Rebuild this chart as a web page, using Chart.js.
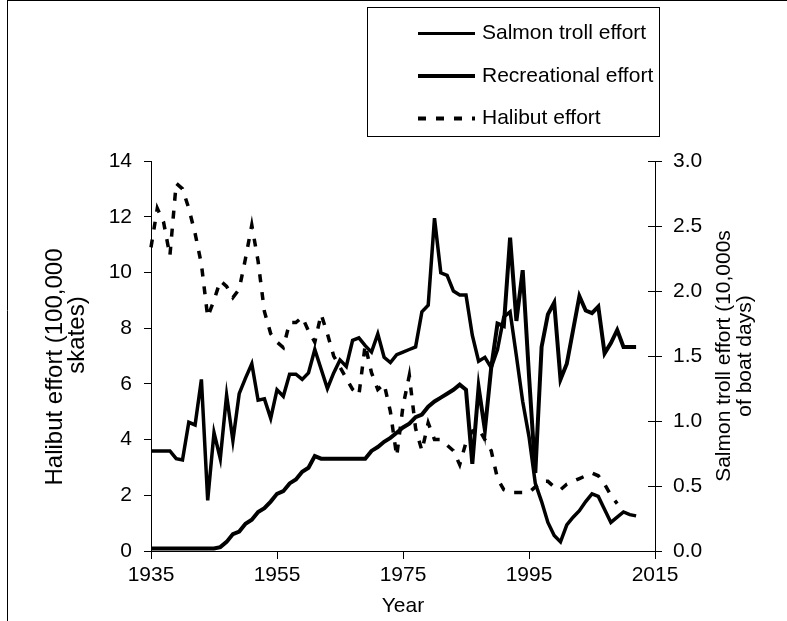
<!DOCTYPE html>
<html>
<head>
<meta charset="utf-8">
<title>Halibut, salmon troll and recreational effort</title>
<script src="https://cdn.jsdelivr.net/npm/chart.js@4.4.0/dist/chart.umd.min.js"></script>
<style>
  html, body { margin: 0; padding: 0; background: #fff; }
</style>
</head>
<body>
<canvas id="chart" width="787" height="621"></canvas>
<script>
// one value per year, right axis (10,000s of boat days)
var years = [1935, 1936, 1937, 1938, 1939, 1940, 1941, 1942, 1943, 1944,
    1945, 1946, 1947, 1948, 1949, 1950, 1951, 1952, 1953, 1954,
    1955, 1956, 1957, 1958, 1959, 1960, 1961, 1962, 1963, 1964,
    1965, 1966, 1967, 1968, 1969, 1970, 1971, 1972, 1973, 1974,
    1975, 1976, 1977, 1978, 1979, 1980, 1981, 1982, 1983, 1984,
    1985, 1986, 1987, 1988, 1989, 1990, 1991, 1992, 1993, 1994,
    1995, 1996, 1997, 1998, 1999, 2000, 2001, 2002, 2003, 2004,
    2005, 2006, 2007, 2008, 2009, 2010, 2011, 2012];

var salmonTroll = [0.77, 0.77, 0.77, 0.77, 0.71, 0.70, 0.99, 0.97, 1.32, 0.39,
    0.91, 0.71, 1.20, 0.85, 1.21, 1.33, 1.44, 1.16, 1.17, 1.02,
    1.24, 1.19, 1.36, 1.36, 1.32, 1.37, 1.55, 1.40, 1.25, 1.37,
    1.47, 1.42, 1.62, 1.64, 1.58, 1.53, 1.67, 1.49, 1.45, 1.51,
    1.53, 1.55, 1.57, 1.84, 1.89, 2.56, 2.14, 2.12, 2.00, 1.97,
    1.97, 1.66, 1.46, 1.49, 1.41, 1.55, 1.80, 1.84, 1.50, 1.15,
    0.88, 0.52, 0.38, 0.22, 0.12, 0.07, 0.20, 0.26, 0.31, 0.38,
    0.44, 0.42, 0.32, 0.22, 0.26, 0.30, 0.28, 0.27];

var recreational = [0.02, 0.02, 0.02, 0.02, 0.02, 0.02, 0.02, 0.02, 0.02, 0.02,
    0.02, 0.03, 0.07, 0.13, 0.15, 0.21, 0.24, 0.30, 0.33, 0.38,
    0.44, 0.46, 0.52, 0.55, 0.61, 0.64, 0.73, 0.71, 0.71, 0.71,
    0.71, 0.71, 0.71, 0.71, 0.71, 0.77, 0.80, 0.84, 0.87, 0.91,
    0.95, 0.98, 1.03, 1.05, 1.11, 1.15, 1.18, 1.21, 1.24, 1.28,
    1.24, 0.67, 1.26, 0.93, 1.41, 1.75, 1.73, 2.41, 1.77, 2.16,
    1.35, 0.60, 1.57, 1.82, 1.91, 1.32, 1.44, 1.70, 1.96, 1.85,
    1.83, 1.88, 1.52, 1.60, 1.70, 1.57, 1.57, 1.57];

// left axis (100,000 skates)
var halibutYears = [1935, 1936, 1937, 1938, 1939, 1940, 1941, 1942, 1943, 1944,
    1945, 1946, 1947, 1948, 1949, 1950, 1951, 1952, 1953, 1954,
    1955, 1956, 1957, 1958, 1959, 1960, 1961, 1962, 1963, 1964,
    1965, 1966, 1967, 1968, 1969, 1970, 1971, 1972, 1973, 1974,
    1975, 1976, 1977, 1978, 1979, 1980, 1981, 1982, 1983, 1984,
    1985, 1986, 1987, 1988, 1989, 1990, 1991, 1992, 1993, 1994,
    1995, 1996, 1997, 1998, 1999, 2000, 2001, 2002, 2003, 2004,
    2005, 2006, 2007, 2008, 2009];

var halibut = [10.9, 12.3, 11.8, 10.6, 13.2, 13.0, 12.3, 11.4, 10.3, 8.4,
    9.0, 9.7, 9.5, 9.1, 9.4, 10.5, 11.7, 10.4, 8.6, 7.8,
    7.5, 7.3, 8.2, 8.2, 8.4, 7.9, 7.5, 8.5, 7.8, 7.0,
    6.6, 6.2, 5.8, 5.6, 7.4, 6.4, 5.8, 6.0, 5.0, 3.4,
    5.2, 6.3, 4.4, 3.6, 4.6, 4.0, 4.0, 3.8, 3.6, 3.1,
    3.9, 4.3, 4.4, 4.0, 3.6, 2.6, 2.2, 2.1, 2.1, 2.1,
    2.1, 2.3, 2.5, 2.5, 2.3, 2.2, 2.4, 2.5, 2.6, 2.7,
    2.8, 2.7, 2.4, 2.0, 1.7];

var leftTitle = ['Halibut effort (100,000', 'skates)'];
var rightTitle = ['Salmon troll effort (10,000s', 'of boat days)'];

var FONT = '"Liberation Sans", Arial, sans-serif';

function toPoints(xs, ys) {
    var points = [];
    for (var i = 0; i < xs.length; i++) {
        points.push({x: xs[i], y: ys[i]});
    }
    return points;
}

function createDataset(label, points, axis, width, dash) {
    return {
        label: label,
        data: points,
        yAxisID: axis,
        borderColor: '#000',
        backgroundColor: '#000',
        borderWidth: width,
        borderDash: dash,
        borderCapStyle: 'butt',
        borderJoinStyle: 'miter',
        pointRadius: 0,
        fill: false,
        tension: 0,
        clip: false
    };
}

function drawRotated(ctx, text, x, y) {
    ctx.save();
    ctx.translate(x, y);
    ctx.rotate(-Math.PI / 2);
    ctx.textAlign = 'center';
    ctx.textBaseline = 'middle';
    ctx.fillText(text, 0, 0);
    ctx.restore();
}

// frame, legend box, y axis titles, inner half of the right axis ticks
var decorations = {
    id: 'decorations',
    afterDraw: function(chart) {
        var ctx = chart.ctx;
        var area = chart.chartArea;
        ctx.save();
        ctx.strokeStyle = '#000';
        ctx.fillStyle = '#000';
        ctx.lineWidth = 1;

        ctx.beginPath();
        ctx.moveTo(7.5, 0);
        ctx.lineTo(7.5, chart.height);
        ctx.moveTo(7, 0.5);
        ctx.lineTo(chart.width, 0.5);
        ctx.stroke();

        var y1 = chart.scales.y1;
        ctx.beginPath();
        y1.ticks.forEach(function(tick) {
            var py = Math.round(y1.getPixelForValue(tick.value)) + 0.5;
            ctx.moveTo(area.right - 7, py);
            ctx.lineTo(area.right, py);
        });
        ctx.stroke();

        ctx.strokeRect(367.5, 7.5, 292, 129);
        ctx.font = '21px ' + FONT;
        ctx.textAlign = 'left';
        ctx.textBaseline = 'middle';
        chart.data.datasets.forEach(function(ds, i) {
            var ly = 33.5 + i * 42.5;
            ctx.save();
            ctx.lineWidth = ds.legendWidth;
            ctx.setLineDash(ds.borderDash || []);
            ctx.beginPath();
            ctx.moveTo(418, ly);
            ctx.lineTo(475, ly);
            ctx.stroke();
            ctx.restore();
            ctx.fillText(ds.label, 482, ly);
        });

        ctx.font = '24px ' + FONT;
        drawRotated(ctx, leftTitle[0], 55, 367);
        drawRotated(ctx, leftTitle[1], 77, 335);
        ctx.font = '21px ' + FONT;
        drawRotated(ctx, rightTitle[0], 724, 356);
        drawRotated(ctx, rightTitle[1], 745, 356);
        ctx.restore();
    }
};

var datasets = [];
datasets.push(createDataset('Salmon troll effort', toPoints(years, salmonTroll), 'y1', 3.5, []));
datasets.push(createDataset('Recreational effort', toPoints(years, recreational), 'y1', 4, []));
datasets.push(createDataset('Halibut effort', toPoints(halibutYears, halibut), 'y', 3.5, [8, 10]));
datasets[0].legendWidth = 3;
datasets[1].legendWidth = 4;
datasets[2].legendWidth = 4;

Chart.defaults.font.family = FONT;
Chart.defaults.font.size = 21;
Chart.defaults.color = '#000';

new Chart(document.getElementById('chart'), {
    type: 'line',
    data: { datasets: datasets },
    options: {
        responsive: false,
        animation: false,
        layout: { padding: { top: 161, left: 0, right: 0, bottom: 0 } },
        plugins: {
            legend: { display: false },
            tooltip: { enabled: false }
        },
        scales: {
            x: {
                type: 'linear',
                min: 1935,
                max: 2015,
                ticks: {
                    stepSize: 20,
                    padding: 4,
                    maxRotation: 0,
                    callback: function(value) { return String(value); }
                },
                grid: { drawOnChartArea: false, tickLength: 8, tickColor: '#000' },
                border: { color: '#000' },
                title: { display: true, text: 'Year', padding: { top: 0, bottom: 2 } },
                afterFit: function(scale) { scale.height = 70; }
            },
            y: {
                position: 'left',
                min: 0,
                max: 14,
                ticks: { stepSize: 2, padding: 12 },
                grid: { drawOnChartArea: false, tickLength: 7, tickColor: '#000' },
                border: { color: '#000' },
                afterFit: function(scale) { scale.width = 151; }
            },
            y1: {
                position: 'right',
                min: 0,
                max: 3,
                ticks: {
                    stepSize: 0.5,
                    padding: 11,
                    callback: function(value) { return value.toFixed(1); }
                },
                grid: { drawOnChartArea: false, tickLength: 7, tickColor: '#000' },
                border: { color: '#000' },
                afterFit: function(scale) { scale.width = 132; }
            }
        }
    },
    plugins: [decorations]
});
</script>
</body>
</html>
